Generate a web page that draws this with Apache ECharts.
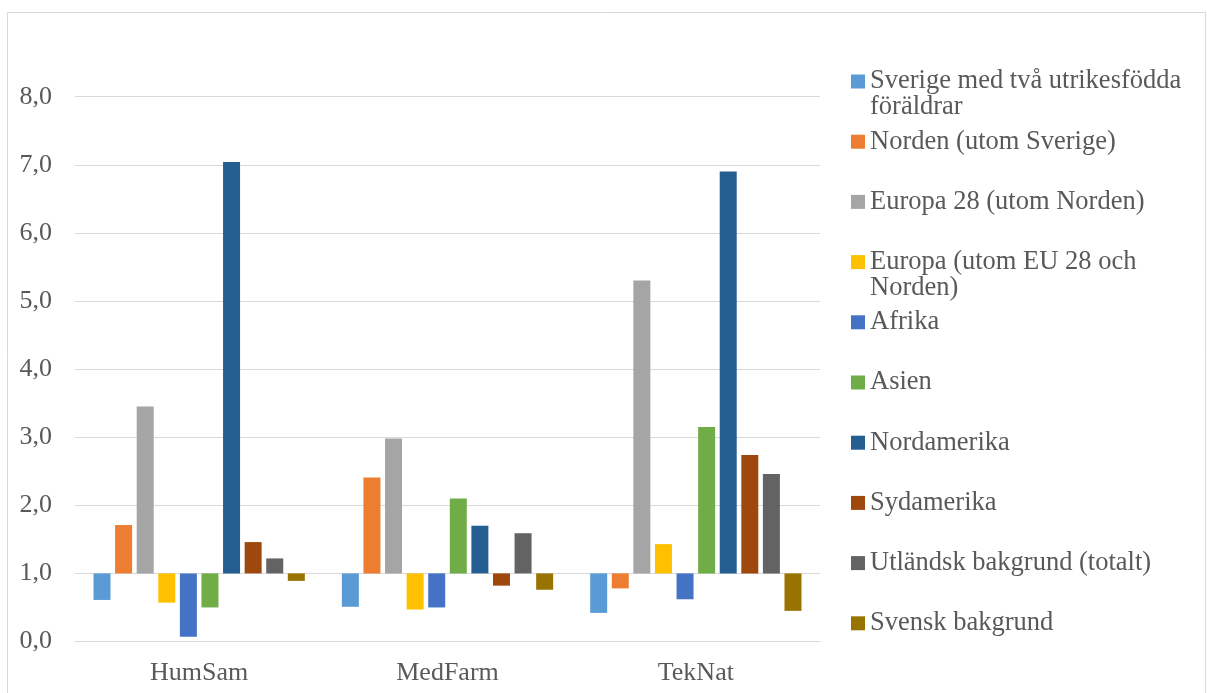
<!DOCTYPE html>
<html>
<head>
<meta charset="utf-8">
<script src="https://cdn.jsdelivr.net/npm/echarts@6/dist/echarts.min.js"></script>
<style>
  html, body { margin: 0; padding: 0; background: #ffffff; }
  #chart { width: 1207px; height: 693px; }
</style>
</head>
<body>
<div id="chart"></div>
<script>
// ---- Data ----
const categories = ['HumSam', 'MedFarm', 'TekNat'];
const seriesNames = [
  'Sverige med två utrikesfödda föräldrar',
  'Norden (utom Sverige)',
  'Europa 28 (utom Norden)',
  'Europa (utom EU 28 och Norden)',
  'Afrika',
  'Asien',
  'Nordamerika',
  'Sydamerika',
  'Utländsk bakgrund (totalt)',
  'Svensk bakgrund'
];
const legendLabels = [
  'Sverige med två utrikesfödda\nföräldrar',
  'Norden (utom Sverige)',
  'Europa 28 (utom Norden)',
  'Europa (utom EU 28 och\nNorden)',
  'Afrika',
  'Asien',
  'Nordamerika',
  'Sydamerika',
  'Utländsk bakgrund (totalt)',
  'Svensk bakgrund'
];
const sverigeUtrikes = [0.61, 0.51, 0.42];
const norden         = [1.71, 2.41, 0.78];
const europa28       = [3.45, 2.98, 5.30];
const europaUtom     = [0.57, 0.47, 1.43];
const afrika         = [0.07, 0.50, 0.62];
const asien          = [0.50, 2.10, 3.15];
const nordamerika    = [7.04, 1.70, 6.90];
const sydamerika     = [1.46, 0.82, 2.74];
const utlandsk       = [1.22, 1.59, 2.46];
const svensk         = [0.89, 0.76, 0.45];
const seriesValues = [sverigeUtrikes, norden, europa28, europaUtom, afrika, asien, nordamerika, sydamerika, utlandsk, svensk];
const yTickLabels = ['0,0', '1,0', '2,0', '3,0', '4,0', '5,0', '6,0', '7,0', '8,0'];
const BASE = 1.0; // bars are drawn from 1,0

const colors = ['#5B9BD5', '#ED7D31', '#A5A5A5', '#FFC000', '#4472C4', '#70AD47', '#255E91', '#9E480E', '#636363', '#997300'];

const FONT = '"Liberation Serif", "Times New Roman", serif';
const TXT = '#595959';

const chart = echarts.init(document.getElementById('chart'), null, { renderer: 'canvas' });

const series = seriesNames.map((name, i) => ({
  name: name,
  type: 'bar',
  barWidth: 17,
  barGap: '27%',
  itemStyle: { color: colors[i] },
  data: seriesValues[i].map(v => v - BASE)
}));

// one legend per item so that the slots are evenly spaced as in the reference
const legendCenters0 = 81, legendStep = 60.2;
const legends = seriesNames.map((name, i) => {
  const twoLine = legendLabels[i].indexOf('\n') >= 0;
  const c = legendCenters0 + legendStep * i;
  return {
    data: [name],
    left: 851,
    top: twoLine ? c - 39 : c - 13,
    orient: 'vertical',
    padding: 0,
    itemWidth: 14,
    itemHeight: 14,
    icon: 'rect',
    selectedMode: false,
    // a leading empty line keeps the first text line level with the square
    formatter: () => (twoLine ? '\n' : '') + legendLabels[i],
    textStyle: {
      fontFamily: FONT,
      fontSize: 26.5,
      color: TXT,
      lineHeight: 26
    }
  };
});

const option = {
  animation: false,
  backgroundColor: '#ffffff',
  color: colors,
  grid: { left: 75, right: 387, top: 96.7, bottom: 51.5, containLabel: false },
  legend: legends,
  xAxis: {
    type: 'category',
    data: categories,
    axisLine: { onZero: false, lineStyle: { color: '#d9d9d9', width: 1 } },
    axisTick: { show: false },
    axisLabel: { fontFamily: FONT, fontSize: 26, color: TXT, margin: 19 }
  },
  yAxis: {
    type: 'value',
    min: 0 - BASE,
    max: 8 - BASE,
    interval: 1,
    axisLine: { show: false },
    axisTick: { show: false },
    splitLine: { lineStyle: { color: '#d9d9d9', width: 1.2 } },
    axisLabel: {
      fontFamily: FONT, fontSize: 26, color: TXT, margin: 23,
      formatter: v => yTickLabels[Math.round(v + BASE)]
    }
  },
  graphic: [{
    type: 'rect',
    x: 0, y: 0,
    shape: { x: 7.5, y: 12.5, width: 1198, height: 700 },
    style: { fill: 'none', stroke: '#d9d9d9', lineWidth: 1 },
    silent: true,
    z: -1
  }],
  series: series
};

chart.setOption(option);
</script>
</body>
</html>
